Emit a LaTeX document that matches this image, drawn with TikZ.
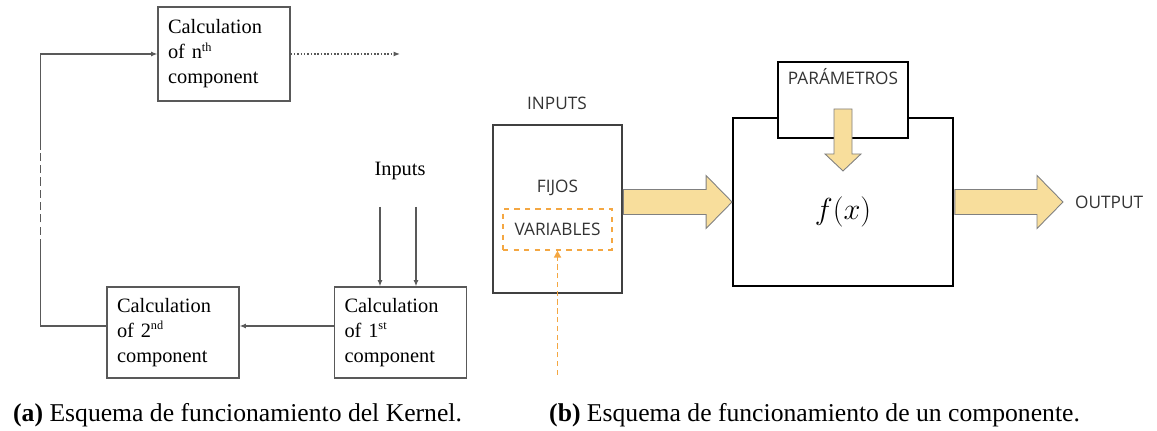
\documentclass[tikz,border=0pt]{standalone}
\usepackage{fontspec}
\setmainfont{Liberation Serif}
\newfontfamily\boxsans{Open Sans}
\usepackage{tikz}
\usetikzlibrary{arrows.meta,calc,positioning}
\usepackage{xcolor}
\definecolor{kernelgrey}{HTML}{595959}
\definecolor{inputgrey}{HTML}{404040}
\definecolor{arrowfill}{HTML}{F8DE9C}
\definecolor{arrowedge}{HTML}{808080}
\definecolor{varorange}{HTML}{F4A742}

% small ordinal suffix as in the block labels
\newcommand{\ordsup}[1]{\textsuperscript{\fontsize{7}{7}\selectfont #1}}

% wide block arrows (horizontal / pointing down)
\newcommand{\fatarrowh}[2]{%
  \filldraw[fatarrow] let \p1=(#1), \p2=(#2) in
    (\x1+0.5pt,\y2-0.25cm) -- (\x2-0.52cm,\y2-0.25cm) -- (\x2-0.52cm,\y2-0.53cm)
    -- (\x2,\y2) -- (\x2-0.52cm,\y2+0.53cm) -- (\x2-0.52cm,\y2+0.25cm)
    -- (\x1+0.5pt,\y2+0.25cm) -- cycle;}
\newcommand{\fatarrowv}[2]{%
  \filldraw[fatarrow] let \p1=(#1), \p2=(#2) in
    (\x2-0.18cm,\y1) -- (\x2-0.18cm,\y2+0.34cm) -- (\x2-0.36cm,\y2+0.34cm)
    -- (\x2,\y2) -- (\x2+0.36cm,\y2+0.34cm) -- (\x2+0.18cm,\y2+0.34cm)
    -- (\x2+0.18cm,\y1) -- cycle;}

\begin{document}
\begin{tikzpicture}[x=0.02cm,y=-0.02cm,
  kbox/.style={draw=kernelgrey,line width=0.65pt,text width=2.24cm,inner xsep=0.2cm,
    align=left,font=\fontsize{11.6}{14.2}\selectfont},
  kline/.style={draw=kernelgrey,line width=0.65pt},
  karrow/.style={kline,-{Latex[length=3.6pt,width=2.8pt]}},
  rtext/.style={font=\boxsans\fontsize{9.8}{11}\selectfont,text=black!80},
  fbox/.style={draw=black,line width=1.1pt},
  fatarrow/.style={fill=arrowfill,draw=arrowedge,line width=0.5pt},
  varbox/.style={draw=varorange,dashed,line width=0.7pt,minimum width=2.18cm,minimum height=0.82cm},
  capt/.style={font=\fontsize{14.6}{17}\selectfont}]
  \useasboundingbox (0,0) rectangle (1157,431);

  % Kernel: component blocks
  \node[kbox,minimum height=1.88cm] (nth) at (224,54) {Calculation\\of n\ordsup{th}\\component};
  \node[kbox,minimum height=1.82cm] (second) at (173,332.5) {Calculation\\of 2\ordsup{nd}\\component};
  \node[kbox,minimum height=1.82cm] (first) at (400.5,332.5) {Calculation\\of 1\ordsup{st}\\component};
  \node[font=\fontsize{11.6}{14}\selectfont] (inputs) at (400,171) {Inputs};

  % inputs into the first block
  \coordinate (inA) at (380,207);
  \coordinate (inB) at (416,207);
  \draw[karrow] (inA) -- (inA |- first.north);
  \draw[karrow] (inB) -- (inB |- first.north);
  \draw[karrow] ([yshift=0.13cm]first.west) -- ([yshift=0.13cm]second.east);

  % feedback loop, broken in the middle
  \draw[kline] ([yshift=0.13cm]second.west) -- ++(-66,0) -- ++(0,-79) coordinate (gapbot);
  \draw[kline,line width=0.9pt,dash pattern=on 4.6pt off 2.4pt] (gapbot) -- ++(0,-97) coordinate (gaptop);
  \draw[karrow] (gaptop) |- (nth.west);
  \coordinate (nthout) at (400,54);
  \draw[karrow,dash pattern=on 0.9pt off 1pt] (nth.east) -- (nthout);

  % Component: inputs
  \node[rtext] (inlabel) at (557,103) {INPUTS};
  \node[draw=inputgrey,line width=0.6pt,minimum width=2.58cm,minimum height=3.36cm] (inbox) at (557.5,209) {};
  \node[rtext] (fijos) at (557.5,188) {FIJOS};
  \node[varbox,rtext] (vars) at (557.5,229.5) {VARIABLES};
  \coordinate (varsrc) at (557.5,375);
  \draw[draw=varorange,line width=0.9pt,dash pattern=on 3pt off 2pt,
    -{Triangle[length=4pt,width=4pt]}] (varsrc) -- (vars.south);

  % function block with its parameters
  \node[fbox,minimum width=4.4cm,minimum height=3.36cm] (fx) at (843,202) {};
  \node[fbox,fill=white,minimum width=2.6cm,minimum height=1.52cm] (param) at (843,100) {};
  \node[rtext] (partext) at ($(param.north)+(0,16)$) {PARÁMETROS};
  \node[font=\fontsize{19}{22}\selectfont] (fxtext) at (843,212) {$f(x)$};
  \fatarrowv{$(param.south)+(0,-30)$}{$(param.south)+(0,32)$}

  % block arrows in and out
  \fatarrowh{inbox.east}{fx.west}
  \coordinate (outtip) at (1063,202);
  \fatarrowh{fx.east}{outtip}
  \node[rtext,right=0.12cm of outtip] (output) {OUTPUT};

  % captions
  \node[capt,anchor=base west] (capa) at (7,422) {\textbf{(a)} Esquema de funcionamiento del Kernel.};
  \node[capt,anchor=base west] (capb) at (543,422) {\textbf{(b)} Esquema de funcionamiento de un componente.};
\end{tikzpicture}
\end{document}
